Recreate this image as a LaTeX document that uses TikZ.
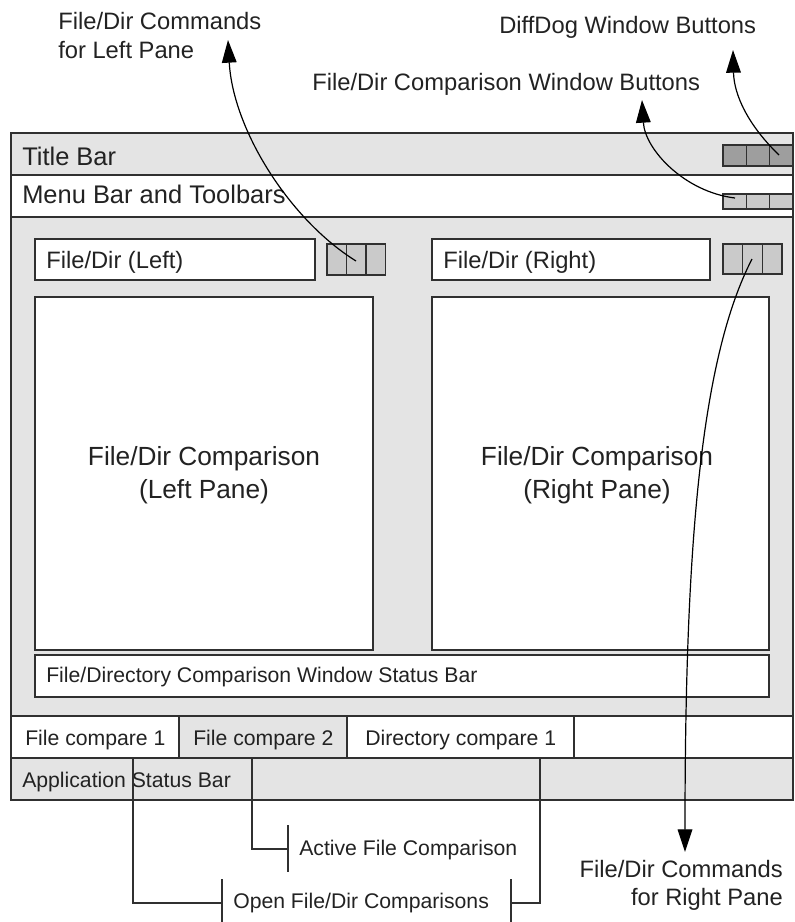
\documentclass[tikz,border=0pt]{standalone}
\usepackage{fontspec}
\setmainfont{Liberation Sans}
\usetikzlibrary{arrows.meta}

\definecolor{barfill}{HTML}{E4E4E4}
\definecolor{btnlight}{HTML}{CACACA}
\definecolor{btndark}{HTML}{9E9E9E}
\definecolor{edge}{HTML}{303030}
\definecolor{ink}{HTML}{222222}

\tikzset{
  frame/.style={draw=edge, line width=1.5},
  pane/.style={draw=edge, line width=1.3, fill=white},
  btncell/.style={draw=edge, line width=1.1},
  callout/.style={draw=black, line width=0.9, -{Triangle[length=17pt,width=11pt]}},
  leader/.style={draw=edge, line width=1.2},
  lbl/.style={inner sep=0pt, text=ink, font=\fontsize{17.8}{21.75}\selectfont},
  smalllbl/.style={inner sep=0pt, text=ink, font=\fontsize{15.9}{19}\selectfont},
}

% three window buttons: left x, top y, cell width, height, fill
\newcommand{\btnrow}[5]{%
  \foreach \k in {0,1,2}{\draw[btncell, fill=#5] ({#1+\k*#3},#2) rectangle ++(#3,#4);}}

\begin{document}
\begin{tikzpicture}[x=0.75pt,y=0.75pt,yscale=-1,xscale=1]
\useasboundingbox (0,0) rectangle (794,922);

%Shape: Rectangle (window bars)
\draw[frame, fill=barfill] (11,133) rectangle (793,175);
\draw[frame, fill=white] (11,175) rectangle (793,217);
\draw[frame, fill=barfill] (11,217) rectangle (793,716);
\draw[frame, fill=white] (11,716) rectangle (793,758);
\draw[frame, fill=barfill] (11,758) rectangle (793,800);

%Shape: Rectangle (tabs)
\draw[frame, fill=white] (11,716) rectangle (179,758);
\draw[frame, fill=barfill] (179,716) rectangle (347,758);
\draw[frame, fill=white] (347,716) rectangle (574,758);

%Shape: Rectangle (comparison window)
\draw[pane] (35,239) rectangle (315,280);
\draw[pane] (432,239) rectangle (710,280);
\draw[pane] (35,297) rectangle (373,650);
\draw[pane] (432,297) rectangle (769,650);
\draw[pane] (35,655) rectangle (769,697);

%Buttons
\btnrow{723}{145}{23.3}{21}{btndark}
\btnrow{723}{194}{23.3}{15}{btnlight}
\btnrow{327}{244}{19.5}{31}{btnlight}
\btnrow{723}{244}{19.7}{30}{btnlight}

% Text Node
\node[lbl, anchor=base west, font=\fontsize{19.1}{23}\selectfont] (titlebar) at (22,165) {Title Bar};
% Text Node
\node[lbl, anchor=base west, font=\fontsize{19.1}{23}\selectfont] (menubar) at (22,203) {Menu Bar and Toolbars};
% Text Node
\node[lbl, anchor=base west] (leftfield) at (46,268) {File/Dir (Left)};
% Text Node
\node[lbl, anchor=base west] (rightfield) at (443,268) {File/Dir (Right)};
% Text Node
\node[lbl, anchor=base, font=\fontsize{19.7}{24.75}\selectfont] (leftcmp) at (204,465) {File/Dir Comparison};
\node[lbl, anchor=base, font=\fontsize{19.7}{24.75}\selectfont] (leftname) at (204,498) {(Left Pane)};
% Text Node
\node[lbl, anchor=base, font=\fontsize{19.7}{24.75}\selectfont] (rightcmp) at (597,465) {File/Dir Comparison};
\node[lbl, anchor=base, font=\fontsize{19.7}{24.75}\selectfont] (rightname) at (597,498) {(Right Pane)};
% Text Node
\node[smalllbl, anchor=base west] (winstatus) at (46,682) {File/Directory Comparison Window Status Bar};
% Text Node
\node[smalllbl, anchor=base west] (tabone) at (25,745) {File compare 1};
\node[smalllbl, anchor=base west] (tabtwo) at (193,745) {File compare 2};
\node[smalllbl, anchor=base west] (tabthree) at (365,745) {Directory compare 1};
% Text Node
\node[smalllbl, anchor=base west] (appstatus) at (22,787) {Application Status Bar};

% Text Node (callouts)
\node[lbl, anchor=base west] (leftcmdsA) at (58,29) {File/Dir Commands};
\node[lbl, anchor=base west] (leftcmdsB) at (58,58) {for Left Pane};
\node[lbl, anchor=base west] (diffdog) at (499,33) {DiffDog Window Buttons};
\node[lbl, anchor=base west] (cmpbtns) at (312,90) {File/Dir Comparison Window Buttons};
\node[lbl, anchor=base east] (rightcmdsA) at (783,877) {File/Dir Commands};
\node[lbl, anchor=base east] (rightcmdsB) at (783,905) {for Right Pane};
\node[smalllbl, anchor=base west] (active) at (299,855) {Active File Comparison};
\node[smalllbl, anchor=base west] (openlist) at (233,908) {Open File/Dir Comparisons};

%Leader lines
\coordinate (opensrcL) at (133,758);
\coordinate (activesrc) at (252,758);
\coordinate (opensrcR) at (540,758);
\coordinate (activebar) at (288,849);
\coordinate (openbarL) at (222,903);
\coordinate (openbarR) at (511,903);
\draw[leader] (activebar) ++(0,-24) -- ++(0,47);
\draw[leader] (openbarL) ++(0,-24) -- ++(0,46);
\draw[leader] (openbarR) ++(0,-24) -- ++(0,46);
\draw[leader] (activesrc) |- (activebar);
\draw[leader] (opensrcL) |- (openbarL);
\draw[leader] (opensrcR) |- (openbarR);

%Curve Lines
\coordinate (ddbtn) at (779,155);
\coordinate (ddtip) at (733,50);
\coordinate (cmpbtn) at (735,198);
\coordinate (cmptip) at (642,100);
\coordinate (lbtn) at (356,261);
\coordinate (ltip) at (228,40);
\coordinate (rbtn) at (752,259);
\coordinate (rtip) at (685,852);
\draw[callout] (ddbtn) .. controls (748,125) and (734,95) .. (ddtip);
\draw[callout] (cmpbtn) .. controls (685,192) and (645,150) .. (cmptip);
\draw[callout] (lbtn) .. controls (290,220) and (233,130) .. (ltip);
\draw[callout] (rbtn) .. controls (700,360) and (685,550) .. (rtip);

\end{tikzpicture}
\end{document}
